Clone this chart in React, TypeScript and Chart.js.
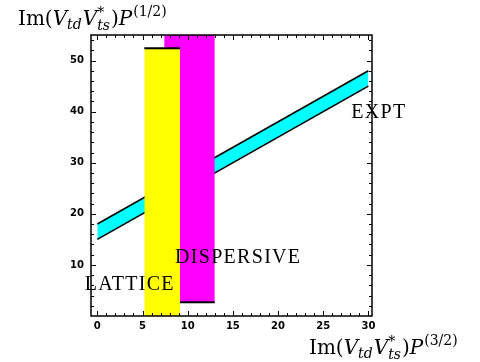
import React, { useEffect, useRef } from 'react';
import { Chart, registerables } from 'chart.js';

Chart.register(...registerables);

// ---- data ----
const bandX = [0, 30];
const bandLower = [15, 45];
const bandUpper = [18, 48];

const latticeX = [5.2, 9.15];
const latticeTop = 52.4;

const dispersiveX = [7.4, 13.0];
const dispersiveBottom = 2.7;

const textLabels = ['LATTICE', 'DISPERSIVE', 'EXPT'];
const textX = [-1.4, 8.6, 28.1];
const textY = [5.1, 10.3, 38.8];

const xTickValues = [0, 5, 10, 15, 20, 25, 30];
const yTickValues = [10, 20, 30, 40, 50];

const SERIF = '"Liberation Serif", "Times New Roman", serif';
const MATH = '"DejaVu Serif", serif';

function drawMathTitle(ctx: CanvasRenderingContext2D, x: number, y: number, frac: string) {
  const s = 20;
  const ss = 14;
  ctx.save();
  ctx.fillStyle = '#000';
  ctx.textBaseline = 'alphabetic';
  ctx.textAlign = 'left';
  let cx = x;
  const put = (t: string, italic: boolean, size: number, dy: number) => {
    ctx.font = `${italic ? 'italic ' : ''}${size}px ${MATH}`;
    ctx.fillText(t, cx, y + dy);
    return ctx.measureText(t).width;
  };
  cx += put('Im(', false, s, 0);
  cx += put('V', true, s, 0);
  cx += put('td', true, ss, 4);
  cx += 1;
  cx += put('V', true, s, 0);
  const w1 = put('*', false, ss, -8);
  const w2 = put('ts', true, ss, 5);
  cx += Math.max(w1, w2) + 1;
  cx += put(')', false, s, 0);
  cx += put('P', true, s, 0);
  cx += 1;
  put('(' + frac + ')', false, ss, -9);
  ctx.restore();
}

const decorPlugin = {
  id: 'decor',
  afterDatasetsDraw(chart: any) {
    const ctx: CanvasRenderingContext2D = chart.ctx;
    const xs = chart.scales.x;
    const ys = chart.scales.y;
    const a = chart.chartArea;
    // text annotations
    ctx.save();
    ctx.fillStyle = '#000';
    ctx.font = `20px ${SERIF}`;
    (ctx as any).letterSpacing = '1.3px';
    ctx.textBaseline = 'alphabetic';
    ctx.textAlign = 'left';
    textLabels.forEach((t, i) => {
      ctx.fillText(t, xs.getPixelForValue(textX[i]), ys.getPixelForValue(textY[i]));
    });
    ctx.restore();

    // frame
    ctx.save();
    ctx.strokeStyle = '#000';
    ctx.lineWidth = 1.5;
    ctx.strokeRect(a.left, a.top, a.right - a.left, a.bottom - a.top);
    ctx.lineWidth = 1;
    ctx.beginPath();
    for (let v = 0; v <= 30; v += 1) {
      const px = Math.round(xs.getPixelForValue(v)) + 0.5;
      const len = v % 5 === 0 ? 5 : 3;
      ctx.moveTo(px, a.bottom);
      ctx.lineTo(px, a.bottom - len);
      ctx.moveTo(px, a.top);
      ctx.lineTo(px, a.top + len);
    }
    for (let v = 2; v <= 54; v += 2) {
      const py = Math.round(ys.getPixelForValue(v)) + 0.5;
      const len = v % 10 === 0 ? 5 : 3;
      ctx.moveTo(a.left, py);
      ctx.lineTo(a.left + len, py);
      ctx.moveTo(a.right, py);
      ctx.lineTo(a.right - len, py);
    }
    ctx.stroke();
    ctx.restore();
  },
  afterDraw(chart: any) {
    const ctx: CanvasRenderingContext2D = chart.ctx;
    drawMathTitle(ctx, 18, 25, '1/2');
    drawMathTitle(ctx, 309, 354, '3/2');
  },
};

export default function App() {
  const ref = useRef<HTMLCanvasElement | null>(null);
  useEffect(() => {
    if (!ref.current) return;
    const upperPts = bandX.map((x, i) => ({ x, y: bandUpper[i] }));
    const lowerPts = bandX.map((x, i) => ({ x, y: bandLower[i] }));
    const chart = new Chart(ref.current, {
      type: 'line',
      data: {
        datasets: [
          {
            label: 'LATTICE',
            data: latticeX.map((x) => ({ x, y: latticeTop })),
            borderColor: '#000',
            borderWidth: 2,
            backgroundColor: '#ffff00',
            fill: 'origin',
            pointRadius: 0,
            order: 0,
          },
          {
            label: 'DISPERSIVE',
            data: dispersiveX.map((x) => ({ x, y: dispersiveBottom })),
            borderColor: '#000',
            borderWidth: 2,
            backgroundColor: '#ff00ff',
            fill: 'end',
            pointRadius: 0,
            order: 1,
          },
          {
            label: 'EXPT upper',
            data: upperPts,
            borderColor: '#000',
            borderWidth: 1.6,
            fill: false,
            pointRadius: 0,
            order: 2,
          },
          {
            label: 'EXPT lower',
            data: lowerPts,
            borderColor: '#000',
            borderWidth: 1.6,
            fill: false,
            pointRadius: 0,
            order: 3,
          },
          {
            label: 'EXPT band',
            data: upperPts,
            borderWidth: 0,
            borderColor: 'rgba(0,0,0,0)',
            backgroundColor: '#00ffff',
            fill: '+1',
            pointRadius: 0,
            order: 4,
          },
          {
            label: 'EXPT band base',
            data: lowerPts,
            borderWidth: 0,
            borderColor: 'rgba(0,0,0,0)',
            fill: false,
            pointRadius: 0,
            order: 5,
          },
        ],
      },
      options: {
        animation: false,
        responsive: false,
        devicePixelRatio: 1,
        layout: { padding: { top: 35, right: 108, left: 0, bottom: 0 } },
        plugins: { legend: { display: false }, tooltip: { enabled: false } },
        scales: {
          x: {
            type: 'linear',
            min: -0.7,
            max: 30.4,
            afterFit: (s: any) => {
              s.height = 46;
            },
            afterBuildTicks: (s: any) => {
              s.ticks = xTickValues.map((v) => ({ value: v }));
            },
            grid: { display: false, drawTicks: false },
            border: { display: false },
            ticks: {
              autoSkip: false,
              maxRotation: 0,
              padding: 4,
              color: '#000',
              font: { family: '"DejaVu Sans"', size: 10, weight: 'bold' },
            },
          },
          y: {
            type: 'linear',
            min: 0,
            max: 55,
            afterFit: (s: any) => {
              s.width = 91;
            },
            afterBuildTicks: (s: any) => {
              s.ticks = yTickValues.map((v) => ({ value: v }));
            },
            grid: { display: false, drawTicks: false },
            border: { display: false },
            ticks: {
              autoSkip: false,
              padding: 7,
              color: '#000',
              font: { family: '"DejaVu Sans"', size: 10, weight: 'bold' },
            },
          },
        },
      },
      plugins: [decorPlugin],
    } as any);
    return () => chart.destroy();
  }, []);
  return (
    <div style={{ position: 'absolute', left: 0, top: 0, width: 480, height: 362, background: '#fff' }}>
      <canvas ref={ref} width={480} height={362} />
    </div>
  );
}
